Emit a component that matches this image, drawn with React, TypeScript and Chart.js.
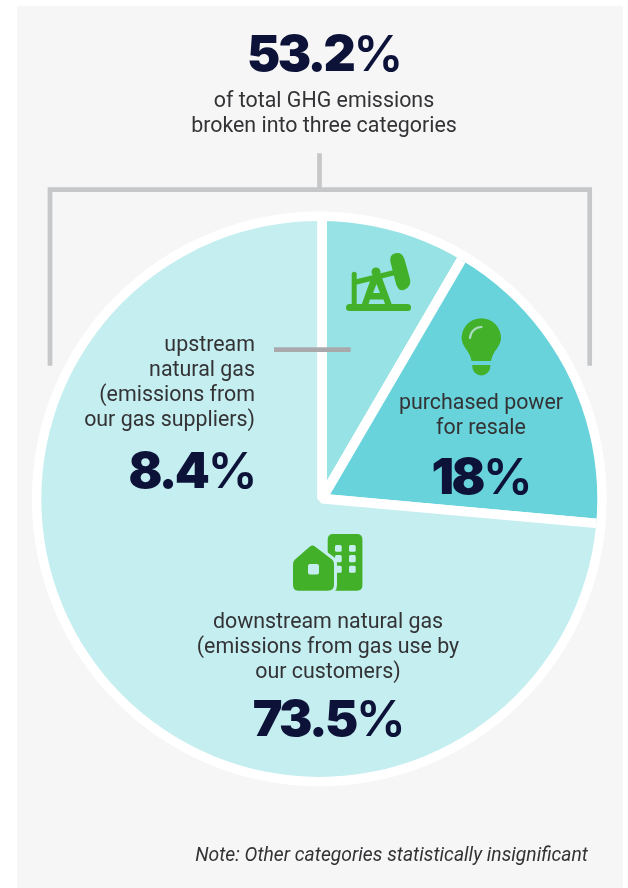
import React, { useEffect, useRef } from "react";
import { Chart, registerables } from "chart.js";

Chart.register(...registerables);

const categories = ["upstream natural gas", "purchased power for resale", "downstream natural gas"];
const shares = [8.4, 18, 73.5];
const sliceColors = ["#97e2e4", "#68d3da", "#c5eef0"];
const totalShare = 53.2;

const INK = "#0c1238";
const BODY = "#333336";
const GREEN = "#43b02a";
const BIG = "Inter, 'Open Sans', sans-serif";
const SANS = "Roboto, sans-serif";

// The source's outline circle sits slightly left of the point where the slice edges meet.
const OUTLINE_SHIFT_X = -2.7;
const OUTLINE_SHIFT_Y = 0.2;
const PIE_RADIUS = 278;
const RING_RADIUS = 287.4;

const outlinePlugin = {
  id: "outline",
  beforeDatasetsDraw(chart: any) {
    const arc = chart.getDatasetMeta(0).data[0];
    if (!arc) return;
    const { ctx } = chart;
    ctx.save();
    ctx.fillStyle = "#ffffff";
    ctx.beginPath();
    ctx.arc(arc.x + OUTLINE_SHIFT_X, arc.y + OUTLINE_SHIFT_Y, RING_RADIUS, 0, Math.PI * 2);
    ctx.fill();
    ctx.restore();
  },
  beforeDatasetDraw(chart: any) {
    const arc = chart.getDatasetMeta(0).data[0];
    const { ctx } = chart;
    ctx.save();
    ctx.beginPath();
    ctx.arc(arc.x + OUTLINE_SHIFT_X, arc.y + OUTLINE_SHIFT_Y, PIE_RADIUS, 0, Math.PI * 2);
    ctx.clip();
  },
  afterDatasetDraw(chart: any) {
    chart.ctx.restore();
  },
};

function Txt(props: { x: number; y: number; w: number; align?: any; size: number; lh?: number; color?: string; weight?: number; italic?: boolean; family?: string; ls?: number; children: any }) {
  const { x, y, w, align = "center", size, lh = 25, color = BODY, weight = 400, italic, family = SANS, ls = 0, children } = props;
  return (
    <div style={{ position: "absolute", left: x, top: y, width: w, textAlign: align, fontSize: size, lineHeight: lh + "px", color, fontWeight: weight, fontStyle: italic ? "italic" : "normal", fontFamily: family, letterSpacing: ls, whiteSpace: "pre-line" }}>
      {children}
    </div>
  );
}

function Pct(props: { x: number; y: number; w: number; align?: any; value: number }) {
  return (
    <Txt x={props.x} y={props.y} w={props.w} align={props.align} size={50} lh={62} color={INK} weight={900} family={BIG} ls={-2.6}>
      {props.value}
      <span style={{ fontWeight: 600 }}>%</span>
    </Txt>
  );
}

export default function App() {
  const ref = useRef<HTMLCanvasElement>(null);
  useEffect(() => {
    const chart = new Chart(ref.current!, {
      type: "pie",
      data: {
        labels: categories,
        datasets: [{ data: shares, backgroundColor: sliceColors, borderColor: "#ffffff", borderWidth: 9.7, hoverOffset: 0 }],
      },
      options: {
        animation: false,
        responsive: false,
        events: [],
        rotation: 0,
        layout: { padding: { left: 30, right: 14, top: 206.7, bottom: 97.3 } },
        plugins: { legend: { display: false }, tooltip: { enabled: false } },
      },
      plugins: [outlinePlugin],
    } as any);
    return () => chart.destroy();
  }, []);

  return (
    <div style={{ position: "fixed", left: 0, top: 0, width: 628, height: 888, background: "#ffffff", overflow: "hidden" }}>
      <div style={{ position: "absolute", left: 17, top: 6, width: 606, height: 882, background: "#f6f6f6" }} />
      <canvas ref={ref} width={628} height={888} style={{ position: "absolute", left: 0, top: 0, width: 628, height: 888 }} />

      <svg width={628} height={888} style={{ position: "absolute", left: 0, top: 0 }}>
        {/* bracket */}
        <path d="M319.500 153.300V189.700M50 365.700V189.700H589.700V365.700" fill="none" stroke="#c6c7c9" strokeWidth={4.700} />
        <rect x={274} y={347.300} width={76.700} height={4.700} fill="#a9a9ab" />

        {/* pump jack */}
        <g fill={GREEN}>
          <rect x={346} y={304} width={65} height={7} rx={3.500} />
          <rect x={351.700} y={271.700} width={5} height={34} rx={2.500} />
          <path d="M355 279.500L394 270L396 275L355 285Z" />
          <path d="M392.500 254.500Q398 252 401 254Q403.500 255.500 405 261L410 279Q411.500 286 405 289.500Q400 291.500 398 288Q396 285 395 280L390.500 262Q389.500 256 392.500 254.500Z" />
          <circle cx={376} cy={272} r={4.500} />
          <path d="M371.500 277L381 275L392 305H361.500ZM376.500 284L373 293H380ZM370 299.500H383.500L385 304H368.500Z" fillRule="evenodd" />
        </g>

        {/* light bulb */}
        <path d="M481.300 318.300a19.700 19.700 0 0 1 19.700 19.700c0 9-8 12-10 23h-19.400c-2-11-10-14-10-23a19.700 19.700 0 0 1 19.700-19.700Z" fill={GREEN} />
        <path d="M472.300 365h18v1.500a9 9 0 0 1-18 0Z" fill={GREEN} />
        <path d="M470 338a11.500 11.500 0 0 1 11.500-11" fill="none" stroke="#a8dcc0" strokeWidth={2.200} strokeLinecap="round" />

        {/* house and building */}
        <rect x={327.700} y={534} width={34.700} height={56.700} rx={5} fill={GREEN} />
        <g fill="#c5eef0">
          <rect x={335} y={545} width={6.700} height={6.700} rx={1.500} /><rect x={349} y={545} width={6.700} height={6.700} rx={1.500} />
          <rect x={335} y={555} width={6.700} height={7.300} rx={1.500} /><rect x={349} y={555} width={6.700} height={7.300} rx={1.500} />
          <rect x={335} y={565.700} width={6.700} height={7} rx={1.500} /><rect x={349} y={565.700} width={6.700} height={7} rx={1.500} />
        </g>
        <path d="M293 564Q293 561 295 559.500L310 546.500Q312.500 544.500 315 546.500L332 559.500Q334 561 334 564V585Q334 590.700 328 590.700H298Q293 590.700 293 585Z" fill={GREEN} stroke="#c5eef0" strokeWidth={6} strokeLinejoin="round" paintOrder="stroke" />
        <rect x={308} y={564} width={11} height={10.500} rx={2} fill="#c5eef0" />
      </svg>

      <Txt x={124} y={22} w={400} size={50} lh={62} color={INK} weight={900} family={BIG} ls={-2.6}>
        {totalShare}
        <span style={{ fontWeight: 600 }}>%</span>
      </Txt>
      <Txt x={124} y={87} w={400} size={21.4}>{"of total GHG emissions\nbroken into three categories"}</Txt>

      <Txt x={55} y={331} w={200} align="right" size={21.4}>{"upstream\nnatural gas\n(emissions from\nour gas suppliers)"}</Txt>
      <Pct x={55} y={439} w={200} align="right" value={shares[0]} />

      <Txt x={381} y={389} w={200} size={21.4}>{"purchased power\nfor resale"}</Txt>
      <Pct x={381} y={445} w={200} value={shares[1]} />

      <Txt x={178} y={608} w={300} size={21.4}>{"downstream natural gas\n(emissions from gas use by\nour customers)"}</Txt>
      <Pct x={178} y={687} w={300} value={shares[2]} />

      <Txt x={88} y={842} w={500} align="right" size={19.300} italic>Note: Other categories statistically insignificant</Txt>
    </div>
  );
}
